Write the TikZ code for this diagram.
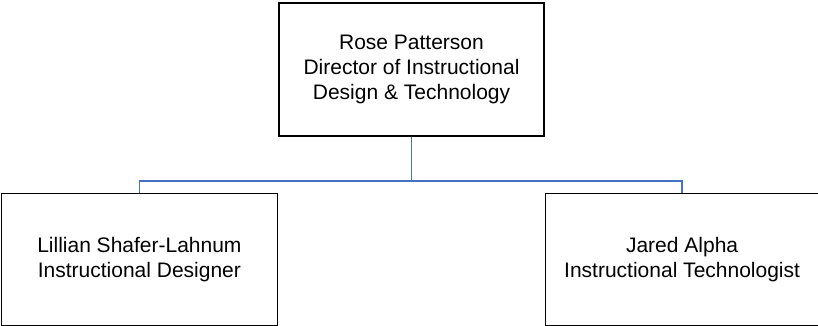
\documentclass[tikz,border=0pt]{standalone}
\usepackage{fontspec}
\setmainfont{Liberation Sans}
\usetikzlibrary{positioning}
\definecolor{linkblue}{RGB}{68,114,196}
\tikzset{
    orgbox/.style={
        draw=black,
        line width=1.6pt,
        align=center,
        inner sep=2pt,
        font=\fontsize{21}{25}\selectfont,
        minimum height=132pt
    },
    orglink/.style={draw=linkblue, line width=1.7pt}
}

\begin{document}
\begin{tikzpicture}[x=1pt, y=1pt, node distance = 56pt and 0pt]
\useasboundingbox (0,0) rectangle (818,-325);
\node[orgbox, minimum width=265pt, minimum height=133pt] (director) at (411.5,-69.5)
    {Rose Patterson\\Director of Instructional\\Design \& Technology};
\node[orgbox, minimum width=276pt, below left=of director]  (designer)
    {Lillian Shafer-Lahnum\\Instructional Designer};
\node[orgbox, minimum width=273pt, below right=of director] (technologist)
    {Jared Alpha\\Instructional Technologist};

\coordinate[below=44pt of director.south] (bus);
\draw[orglink] (director.south) -- (bus) -| (designer.north);
\draw[orglink] (bus) -| (technologist.north);
\end{tikzpicture}
\end{document}
